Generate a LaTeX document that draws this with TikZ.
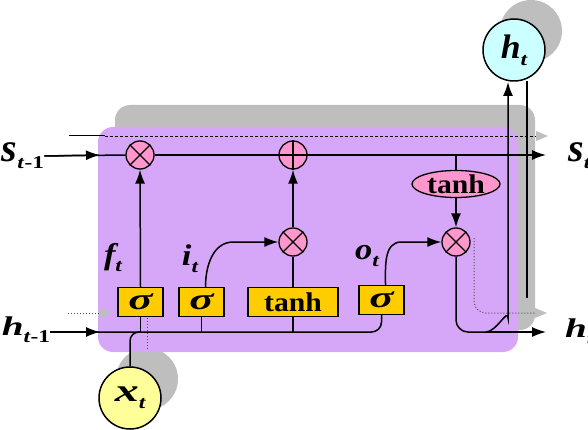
\documentclass[tikz,border=0pt]{standalone}
\usepackage{fontspec}
\setmainfont{Liberation Serif}
\usetikzlibrary{arrows.meta,shapes.geometric,calc}
\definecolor{lav}{RGB}{214,166,248}
\definecolor{pinkc}{RGB}{255,150,205}
\definecolor{gold}{RGB}{255,204,0}
\definecolor{lyel}{RGB}{255,255,153}
\definecolor{lcyan}{RGB}{204,255,255}
\definecolor{shad}{RGB}{190,190,190}
\newcommand\glyphx[3]{\scalebox{#1}[1]{\fontsize{#2}{#2}\selectfont #3}}
\newcommand\subx[1]{\raisebox{-7pt}{\scalebox{1.3}[1]{\fontsize{18}{18}\selectfont #1}}}
\begin{document}
\begin{tikzpicture}[x=1pt,y=-1pt,
  line/.style={line width=1.5pt},
  arr/.style={line, -{Latex[length=14pt,width=10pt]}},
  op/.style={circle, draw, line width=1.3pt, fill=pinkc, minimum size=28pt, inner sep=0pt},
  gate/.style={draw, line width=1.3pt, fill=gold, minimum height=29pt, inner sep=0pt,
    font=\bfseries\itshape},
  io/.style={circle, draw, line width=1.5pt, minimum size=62pt, inner sep=0pt,
    font=\bfseries\itshape},
  lab/.style={inner sep=0pt, font=\bfseries\itshape},
  shline/.style={line width=1pt, dotted, black!70},
  symb/.style={line width=1.3pt}
]
\useasboundingbox (0,0) rectangle (588,430);
% shadows
\fill[shad, rounded corners=15pt] (115,105) rectangle (535,330);
\fill[shad] (147,379) circle (31pt);
\fill[shad] (531,31) circle (31pt);
% box
\fill[lav, rounded corners=15pt] (98,127) rectangle (518,352);
% shadow lines
\coordinate (s1) at (69,136);
\coordinate (s2) at (105,136);
\coordinate (s3) at (536,136);
\draw[line width=1pt] (s1) -- (s2);
\draw[line width=0.8pt, dash pattern=on 3pt off 2pt] (s2) -- (s3);
\fill[shad] (s3) -- ++(0,-5) -- ++(12,5) -- ++(-12,5) -- cycle;
\coordinate (d1) at (68,313);
\coordinate (d2) at (100,313);
\draw[shline] (d1) -- (d2);
\fill[shad] (d2) -- ++(0,-5) -- ++(12,5) -- ++(-12,5) -- cycle;
\coordinate (e1) at (474,238);
\coordinate (e2) at (474,313);
\coordinate (e3) at (535,313);
\draw[shline, rounded corners=12pt] (e1) -- (e2) -- (e3);
\fill[shad] (e3) -- ++(0,-5) -- ++(12,5) -- ++(-12,5) -- cycle;
\coordinate (f1) at (147,318);
\coordinate (f2) at (147,350);
\draw[shline] (f1) -- (f2);
\coordinate (g1) at (527,81);
\coordinate (g2) at (527,298);
\draw[line width=1.5pt] (g1) -- (g2);
% operators
\node[op] (mf) at (140,155) {};
\node[op] (ma) at (293,155) {};
\node[op] (mi) at (293,242) {};
\node[op] (mo) at (456,242) {};
\foreach \m in {mf,mi,mo}{\draw[symb] (\m.45) -- (\m.225) (\m.135) -- (\m.315);}
\draw[symb] (ma.north) -- (ma.south) (ma.west) -- (ma.east);
\node[ellipse, draw, fill=pinkc, line width=1.3pt, minimum width=88pt, minimum height=27pt,
  inner sep=0pt, font=\bfseries] (th) at (456,184) {\glyphx{1.1}{27}{tanh}};
% gates
\node[gate, minimum width=45pt] (gf) at (140.5,302) {\glyphx{1.5}{30}{σ}};
\node[gate, minimum width=45pt] (gi) at (201.5,302) {\glyphx{1.5}{30}{σ}};
\node[gate, minimum width=90pt, font=\bfseries] (gt) at (293,302) {\glyphx{1.1}{27}{tanh}};
\node[gate, minimum width=45pt] (go) at (381.5,300) {\glyphx{1.5}{30}{σ}};
% inputs/outputs
\node[io, fill=lyel] (xt) at (130,398) {\glyphx{1.5}{32}{x}\subx{t}};
\node[io, fill=lcyan] (ht) at (514,50) {\glyphx{1.05}{34}{h}\subx{t}};
% labels
\node[lab] (lst1) at (23,156) {\glyphx{1}{40}{s}\subx{t\textup{-1}}};
\node[lab] (lht1) at (26,330) {\glyphx{1.45}{27}{h}\subx{t\textup{-1}}};
\node[lab, anchor=west] (lst) at (568,156) {\glyphx{1}{40}{s}\subx{t}};
\node[lab, anchor=west] (lht) at (565,332) {\glyphx{1.45}{27}{h}\subx{t}};
\node[lab] (lf) at (113,258) {\glyphx{1.15}{30}{f}\subx{t}};
\node[lab] (li) at (190,259) {\glyphx{1.15}{30}{i}\subx{t}};
\node[lab] (lo) at (367,256) {\glyphx{1.15}{30}{o}\subx{t}};
% coordinates
\coordinate (sA) at (100,155);
\coordinate (sOut) at (546,155);
\coordinate (hA) at (100,332);
\coordinate (hOut) at (546,332);
\coordinate (hj) at (486,332);
\coordinate (hv) at (508,318);
\coordinate (htin) at (508,82);
% top line
\draw[line] (lst1.east) -- (mf.west);
\draw[arr] (lst1.east) -- (sA);
\draw[line] (mf.east) -- (ma.west);
\draw[arr] (ma.east) -- (sOut);
\draw[line] (th.north |- ma) -- (th.north);
\draw[arr] (th.south) -- (mo.north);
% bottom line
\draw[line, rounded corners=10pt] (lht1.east |- hA) -- (go.south |- hA) -- (go.south);
\draw[arr] (lht1.east |- hA) -- (hA);
\draw[line] (gf.south) -- (gf.south |- hA);
\draw[line] (gi.south) -- (gi.south |- hA);
\draw[line] (gt.south) -- (gt.south |- hA);
\draw[line, rounded corners=9pt] (xt.north) -- (xt.north |- hA) -- (gf.south |- hA);
% gates to operators
\draw[arr] (gf.north) -- (mf.south);
\draw[arr] ($(gi.north)+(4,0)$) to[out=90,in=180] ($(mi.west)+(-45,0)$) -- (mi.west);
\draw[line] (gt.north) -- (mi.south);
\draw[arr] (mi.north) -- (ma.south);
\draw[arr] ($(go.north)+(4,0)$) to[out=90,in=180] ($(mo.west)+(-40,0)$) -- (mo.west);
% output
\draw[line, rounded corners=12pt] (mo.south) -- (mo.south |- hA) -- (hj);
\draw[arr] (hj) -- (hOut);
\draw[arr] (hj) to[out=0,in=90] (hv) -- (htin);
\end{tikzpicture}
\end{document}
